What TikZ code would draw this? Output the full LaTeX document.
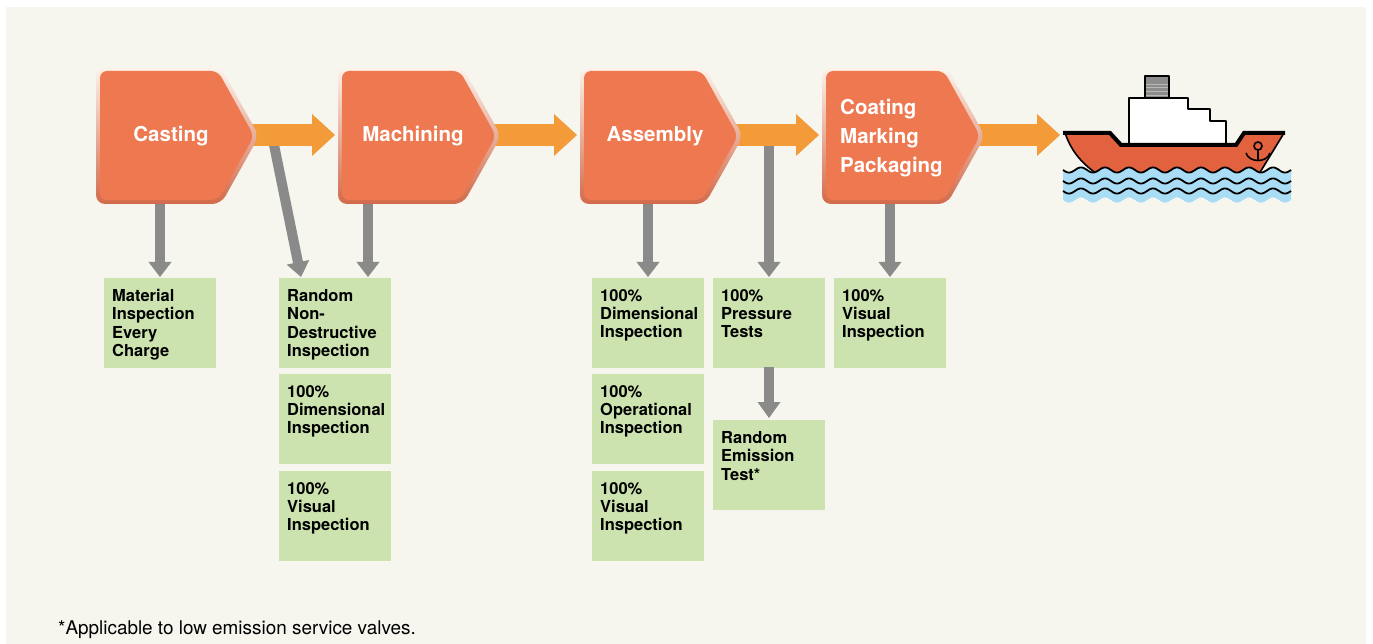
\documentclass[tikz,border=0pt]{standalone}
\usepackage{fontspec}
\setmainfont{TeX Gyre Heros}
\usetikzlibrary{calc}
\definecolor{panelbg}{HTML}{F6F5EE}
\definecolor{stageorange}{HTML}{EE7850}
\definecolor{glowtop}{HTML}{FDF2EA}
\definecolor{glowmid}{HTML}{F2B99E}
\definecolor{glowbot}{HTML}{D26A4A}
\definecolor{floworange}{HTML}{F29B38}
\definecolor{checkgray}{HTML}{8A8A8A}
\definecolor{boxgreen}{HTML}{CDE3AF}
\definecolor{hullred}{HTML}{E2613F}
\definecolor{waterblue}{HTML}{A9DDF5}
\definecolor{funnelgray}{HTML}{8C8C8C}
\definecolor{funnelstripe}{HTML}{B8B8B8}

\tikzset{
  gbox/.style={fill=boxgreen, draw=none, minimum width=112pt, minimum height=90pt, inner sep=0pt, anchor=north west},
  gtext/.style={anchor=north west, inner sep=0pt, align=left, text=black, font=\bfseries\fontsize{16.5}{18.4}\selectfont},
  stagetext/.style={inner sep=0pt, text=white, font=\bfseries\fontsize{20.5}{29}\selectfont},
  notetext/.style={inner sep=0pt, anchor=base west, text=black, font=\fontsize{18.9}{22}\selectfont},
  shipline/.style={draw=black, line width=1.6pt, line join=round},
}

% arrow connector: #1 from, #2 to, #3 colour, #4 shaft width, #5 head length, #6 head half width
\newcommand\connarrow[6]{%
  \path (#2) coordinate (ctip) ($(#2)!#5!(#1)$) coordinate (cbase);
  \draw[#3, line width=#4] (#1) -- ($(cbase)!0.6pt!(ctip)$);
  \fill[#3] (ctip) -- ($(cbase)!#6!90:(ctip)$) -- ($(cbase)!#6!-90:(ctip)$) -- cycle;
}
% stage pentagon with glow, #1 = left x
\newcommand\stageshape[1]{%
  \shade[top color=glowtop, middle color=glowmid, bottom color=glowbot, rounded corners=9pt]
    (#1,68) -- (#1+125,68) -- (#1+163,136) -- (#1+125,204) -- (#1,204) -- cycle;
  \fill[stageorange, rounded corners=7pt]
    (#1+4,71) -- (#1+122,71) -- (#1+158,136) -- (#1+122,200) -- (#1+4,200) -- cycle;
}

\begin{document}
\begin{tikzpicture}[x=1pt, y=-1pt]
\useasboundingbox (0,0) rectangle (1373,644);
\fill[white] (0,0) rectangle (1373,644);
\fill[panelbg] (6,7) rectangle (1366,644);

% inspection boxes
\node[gbox] (b1) at (104,278) {};
\node[gbox] (b2) at (279,278) {};
\node[gbox] (b3) at (279,374) {};
\node[gbox] (b4) at (279,471) {};
\node[gbox] (b5) at (592,278) {};
\node[gbox] (b6) at (592,374) {};
\node[gbox] (b7) at (592,471) {};
\node[gbox] (b8) at (713,278) {};
\node[gbox] (b9) at (713,420) {};
\node[gbox] (b10) at (834,278) {};

\node[gtext] (t1) at ([shift={(8,11)}]b1.north west) {Material\\Inspection\\Every\\Charge};
\node[gtext] (t2) at ([shift={(8,11)}]b2.north west) {Random\\Non-\\Destructive\\Inspection};
\node[gtext] (t3) at ([shift={(8,11)}]b3.north west) {100\%\\Dimensional\\Inspection};
\node[gtext] (t4) at ([shift={(8,11)}]b4.north west) {100\%\\Visual\\Inspection};
\node[gtext] (t5) at ([shift={(8,11)}]b5.north west) {100\%\\Dimensional\\Inspection};
\node[gtext] (t6) at ([shift={(8,11)}]b6.north west) {100\%\\Operational\\Inspection};
\node[gtext] (t7) at ([shift={(8,11)}]b7.north west) {100\%\\Visual\\Inspection};
\node[gtext] (t8) at ([shift={(8,11)}]b8.north west) {100\%\\Pressure\\Tests};
\node[gtext] (t9) at ([shift={(8,11)}]b9.north west) {Random\\Emission\\Test*};
\node[gtext] (t10) at ([shift={(8,11)}]b10.north west) {100\%\\Visual\\Inspection};

% connector end points
\coordinate (castBot) at (160,196);
\coordinate (castDiag) at (273,140);
\coordinate (machBot) at (368,196);
\coordinate (asmBot) at (648,196);
\coordinate (pressStart) at (769,140);
\coordinate (coatBot) at (890,196);
\coordinate (b1in) at (160,277);
\coordinate (b2diag) at (301,277);
\coordinate (b2in) at (368,277);
\coordinate (b5in) at (648,277);
\coordinate (b8in) at (769,277);
\coordinate (b8out) at (769,367);
\coordinate (b9in) at (769,418);
\coordinate (b10in) at (890,277);

% grey check arrows
\connarrow{castBot}{b1in}{checkgray}{10pt}{15pt}{11.5pt}
\connarrow{castDiag}{b2diag}{checkgray}{10pt}{15pt}{11.5pt}
\connarrow{machBot}{b2in}{checkgray}{10pt}{15pt}{11.5pt}
\connarrow{asmBot}{b5in}{checkgray}{10pt}{15pt}{11.5pt}
\connarrow{pressStart}{b8in}{checkgray}{10pt}{15pt}{11.5pt}
\connarrow{b8out}{b9in}{checkgray}{10pt}{16pt}{11.5pt}
\connarrow{coatBot}{b10in}{checkgray}{10pt}{15pt}{11.5pt}

% orange flow arrows
\coordinate (castTip) at (250,135);
\coordinate (machIn) at (335,135);
\coordinate (machTip) at (492,135);
\coordinate (asmIn) at (577,135);
\coordinate (asmTip) at (734,135);
\coordinate (coatIn) at (819,135);
\coordinate (coatTip) at (976,135);
\coordinate (shipIn) at (1060,135);
\connarrow{castTip}{machIn}{floworange}{22pt}{23pt}{21pt}
\connarrow{machTip}{asmIn}{floworange}{22pt}{23pt}{21pt}
\connarrow{asmTip}{coatIn}{floworange}{22pt}{23pt}{21pt}
\connarrow{coatTip}{shipIn}{floworange}{22pt}{23pt}{21pt}

% stages
\stageshape{96}
\stageshape{338}
\stageshape{580}
\stageshape{822}
\node[stagetext, anchor=base] (casting) at (171,142) {Casting};
\node[stagetext, anchor=base] (machining) at (413,142) {Machining};
\node[stagetext, anchor=base] (assembly) at (655,142) {Assembly};
\node[stagetext, anchor=north west, align=left] (coating) at (840,99) {Coating\\Marking\\Packaging};

% ship
\fill[hullred] (1065,133) -- (1110,133) -- (1121,145) -- (1236,145) -- (1244,133) -- (1284,133)
  -- (1259,174) -- (1097,174) .. controls (1080,162) and (1071,150) .. (1065,133) -- cycle;
\draw[shipline] (1284,133) -- (1259,174);
\draw[shipline] (1097,174) .. controls (1080,162) and (1071,150) .. (1065,133);
\filldraw[fill=white, shipline] (1129,145) -- (1129,98) -- (1188,98) -- (1188,109) -- (1210,109)
  -- (1210,121) -- (1226,121) -- (1226,145);
\filldraw[fill=funnelgray, shipline] (1145,76) rectangle (1169,98);
\foreach \sy in {84,87.5,91.5,95}
  \draw[funnelstripe, line width=0.9pt] (1146,\sy) -- (1168,\sy);
\draw[black, line width=4pt, line join=miter] (1063,133) -- (1110,133) -- (1121,145) -- (1236,145)
  -- (1244,133) -- (1285,133);
\draw[black, line width=1.6pt] (1258,146) circle (4pt);
\draw[black, line width=1.6pt] (1258,150) -- (1258,160);
\draw[black, line width=1.6pt] (1246,153) .. controls (1249,163) and (1267,163) .. (1270,153);
\fill[waterblue] plot[domain=1063:1291, samples=120] (\x,{170+2.6*sin(15*(\x-1063))})
  -- plot[domain=1291:1063, samples=120] (\x,{200+2.6*sin(15*(\x-1063))}) -- cycle;
\foreach \wy in {170,181,191}
  \draw[black, line width=1.8pt] plot[domain=1063:1291, samples=120] (\x,{\wy+2.6*sin(15*(\x-1063))});

% footnote
\node[notetext] (note) at (58,634) {*Applicable to low emission service valves.};
\end{tikzpicture}
\end{document}
